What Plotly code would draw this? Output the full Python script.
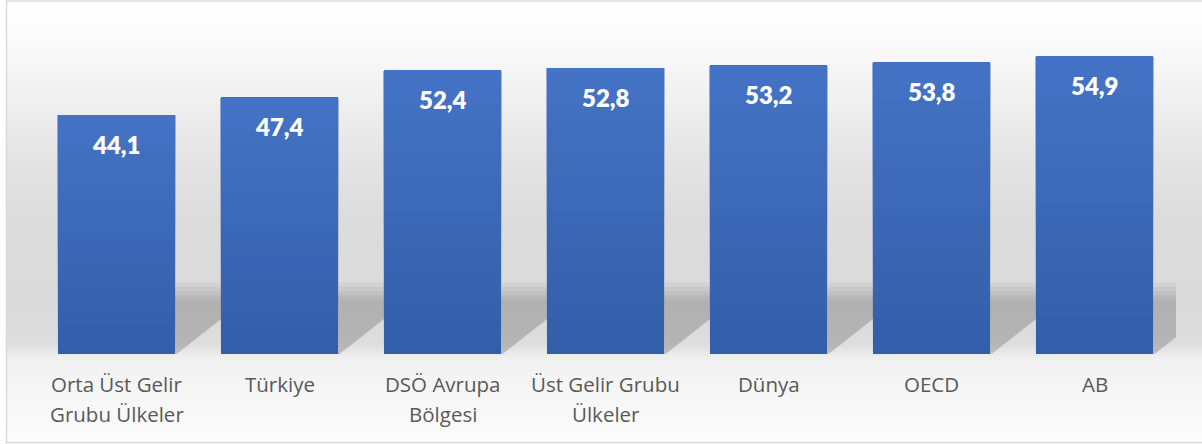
import plotly.graph_objects as go

categories = ["Orta Üst Gelir<br>Grubu Ülkeler", "Türkiye", "DSÖ Avrupa<br>Bölgesi",
              "Üst Gelir Grubu<br>Ülkeler", "Dünya", "OECD", "AB"]
values = [44.1, 47.4, 52.4, 52.8, 53.2, 53.8, 54.9]
value_labels = ["44,1", "47,4", "52,4", "52,8", "53,2", "53,8", "54,9"]

W, H = 1202, 444
ML, MR, MT, MB = 35, 26, 29, 90
YMAX = 60
plot_h = H - MT - MB
plot_w = W - ML - MR

def px_to_paper_y(py):
    return (H - MB - py) / plot_h

def px_to_paper_x(px):
    return (px - ML) / plot_w

fig = go.Figure()

# gradient bars (per-bar vertical gradient via overlaid segments)
N = 24
top_c = (68, 115, 197)
bot_c = (51, 94, 169)
idx = list(range(len(categories)))
for k in range(N):
    t = k / (N - 1)
    c = tuple(round(bot_c[j] + (top_c[j] - bot_c[j]) * t) for j in range(3))
    fig.add_trace(go.Bar(
        x=idx,
        base=[v * k / N for v in values],
        y=[v * (1 - k / N) for v in values],
        marker=dict(color="rgb(%d,%d,%d)" % c, line=dict(width=0)),
        hoverinfo="skip", showlegend=False,
    ))

shapes = []
# background gradient
stops = [(0, 255), (40, 251), (100, 240), (160, 228), (220, 220), (300, 218),
         (345, 221), (352, 232), (360, 241), (400, 247), (444, 252)]
def gray_at(py):
    for (y0, g0), (y1, g1) in zip(stops, stops[1:]):
        if y0 <= py <= y1:
            return g0 + (g1 - g0) * (py - y0) / (y1 - y0)
    return stops[-1][1]
step = 4
for py in range(0, H, step):
    g = round(gray_at(py + step / 2))
    shapes.append(dict(type="rect", xref="paper", yref="paper", layer="below",
                       x0=px_to_paper_x(6), x1=px_to_paper_x(1210),
                       y0=px_to_paper_y(py + step + 0.5), y1=px_to_paper_y(py - 0.5),
                       fillcolor="rgb(%d,%d,%d)" % (g, g, g), line=dict(width=0)))

# perspective shadows behind bars (soft edges approximated by stacked layers)
half = (1 - 0.282) / 2
for i in idx:
    for h, dx, op in [(13.2, 0.58, 0.035), (12.4, 0.54, 0.04), (11.6, 0.50, 0.045),
                      (10.8, 0.46, 0.045), (10.0, 0.42, 0.03)]:
        path = "M %f,0 L %f,0 L %f,%f L %f,%f Z" % (
            i - half, i + half + 0.01, i + half + dx, h, i - half + dx, h)
        shapes.append(dict(type="path", xref="x", yref="y", layer="below", path=path,
                           fillcolor="rgba(0,0,0,%f)" % op, line=dict(width=0)))

# outer border
shapes.append(dict(type="rect", xref="paper", yref="paper", layer="above",
                   x0=px_to_paper_x(6.5), x1=px_to_paper_x(1215),
                   y0=px_to_paper_y(442.5), y1=px_to_paper_y(1),
                   fillcolor="rgba(0,0,0,0)", line=dict(color="#d9d9d9", width=1.5)))

annotations = []
for i, (v, lab) in enumerate(zip(values, value_labels)):
    annotations.append(dict(x=i, y=v, xref="x", yref="y", text=lab,
                            showarrow=False, yanchor="middle", yshift=-29,
                            font=dict(family="Lato", size=24, color="white", weight=800)))
for i, cat in enumerate(categories):
    for j, line in enumerate(cat.split("<br>")):
        annotations.append(dict(x=i, y=0, xref="x", yref="y", text=line,
                                showarrow=False, yanchor="middle", yshift=-30 - 30 * j,
                                font=dict(family="Open Sans", size=20.5, color="#595959")))

fig.update_layout(
    width=W, height=H,
    margin=dict(l=ML, r=MR, t=MT, b=MB),
    paper_bgcolor="white", plot_bgcolor="rgba(0,0,0,0)",
    barmode="overlay", bargap=0.282,
    shapes=shapes, annotations=annotations,
    xaxis=dict(range=[-0.5, len(categories) - 0.5], showticklabels=False, showgrid=False,
               zeroline=False, showline=False, ticks=""),
    yaxis=dict(range=[0, YMAX], visible=False, showgrid=False, zeroline=False),
)

fig.write_html("out.html", config={"displayModeBar": False},
               post_script="document.body.style.margin='0px';document.body.style.overflow='hidden';")
